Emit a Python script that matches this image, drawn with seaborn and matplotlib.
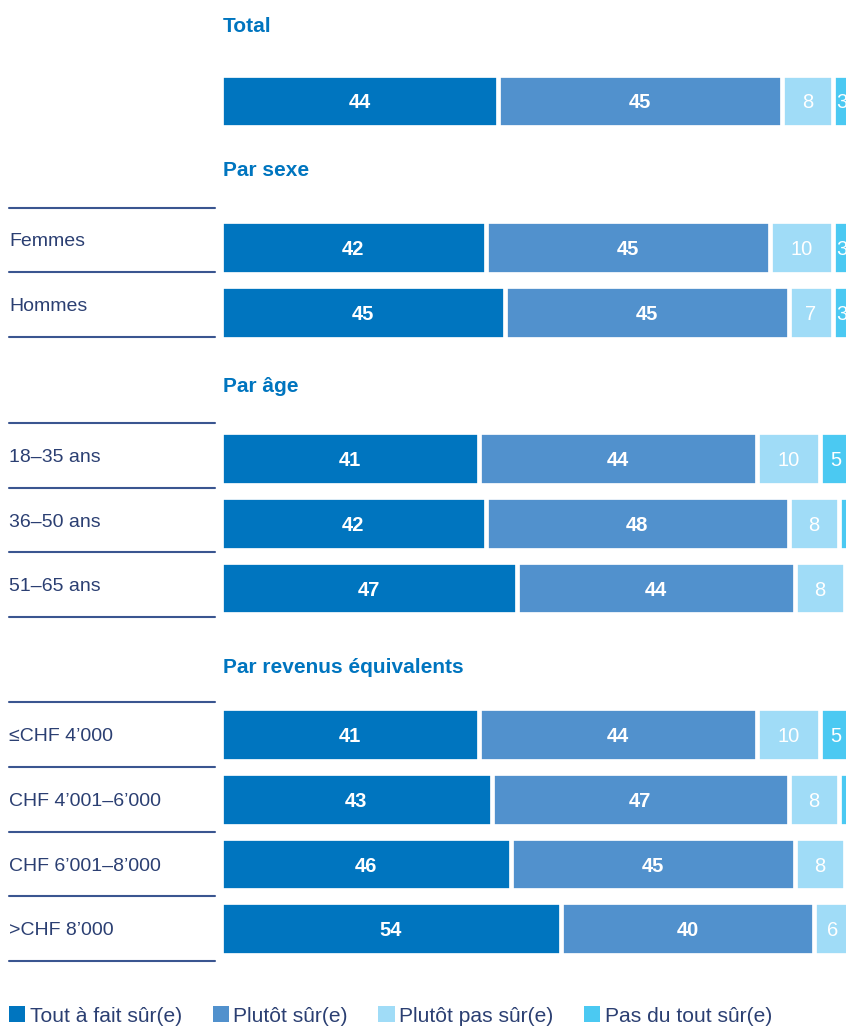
import numpy as np
import pandas as pd
import seaborn as sns
import matplotlib.pyplot as plt
import matplotlib.transforms as mtransforms
from matplotlib.patches import Patch

# data
groups = ["Total", "Par sexe", "Par âge", "Par revenus équivalents"]
categories = ["Total", "Femmes", "Hommes", "18–35 ans", "36–50 ans", "51–65 ans",
              "≤CHF 4’000", "CHF 4’001–6’000", "CHF 6’001–8’000", ">CHF 8’000"]
group_of = [0, 1, 1, 2, 2, 2, 3, 3, 3, 3]
tout_a_fait = [44, 42, 45, 41, 42, 47, 41, 43, 46, 54]
plutot_sur = [45, 45, 45, 44, 48, 44, 44, 47, 45, 40]
plutot_pas = [8, 10, 7, 10, 8, 8, 10, 8, 8, 6]
pas_du_tout = [3, 3, 3, 5, 2, 1, 5, 2, 1, 0]
series_names = ["Tout à fait sûr(e)", "Plutôt sûr(e)", "Plutôt pas sûr(e)", "Pas du tout sûr(e)"]

colors = ["#0075BF", "#5191CD", "#A0DCF7", "#4BC9F2"]
blue_head = "#0075BF"
navy = "#2B3F72"
line_col = "#3A5590"

sns.set_theme(style="white")
plt.rcParams['font.family'] = ['Liberation Sans', 'DejaVu Sans']

W, H = 846, 1026
fig = plt.figure(figsize=(W / 100, H / 100), dpi=100)

# layout (pixels)
px_per_pct = 6.31
edge_px = 4.7
bar_left = 223 - edge_px / 2
pitch = 64.7
group_step = 146.5
head_gap = [69, 71, 67, 62]
line_shift = [0, -7.7, -3.3, 0]
half_gap = 32.2

pos = []
y = 101.0
for i, g in enumerate(group_of):
    if i > 0:
        y += group_step if g != group_of[i - 1] else pitch
    pos.append(y)

ax = fig.add_axes([bar_left / W, 0, (W - bar_left) / W, 1])

vals = np.array([tout_a_fait, plutot_sur, plutot_pas, pas_du_tout], dtype=float)
cums = np.cumsum(vals, axis=0)

# stacked bars: draw cumulative totals from back to front
for k in range(3, -1, -1):
    df = pd.DataFrame({"pos": pos, "cum": cums[k]})
    sns.barplot(data=df, x="cum", y="pos", orient="y", native_scale=True,
                color=colors[k], saturation=1, width=(48 + edge_px) / pitch,
                edgecolor="white", linewidth=edge_px * 0.72, errorbar=None, ax=ax)

ax.set_xlim(0, (W - bar_left) / px_per_pct)
ax.set_ylim(H, 0)
ax.axis("off")

# value labels
for i in range(len(categories)):
    start = 0
    for k in range(4):
        v = vals[k, i]
        if v >= 3:
            ax.text(start + v / 2, pos[i], f"{int(v)}", ha="center", va="center_baseline",
                    color="white", fontsize=14.5,
                    fontweight="bold" if k < 2 else "normal", clip_on=True)
        start += v

trans = mtransforms.blended_transform_factory(fig.transFigure, ax.transData)

# group headings
for g, name in enumerate(groups):
    first = group_of.index(g)
    ax.text(223 / W, pos[first] - head_gap[g], name, transform=trans,
            ha="left", va="baseline", color=blue_head, fontsize=15, fontweight="bold")

# category labels and separator lines
for i, cat in enumerate(categories):
    g = group_of[i]
    if g == 0:
        continue
    mid = pos[i] + line_shift[g]
    ax.text(9 / W, mid, cat, transform=trans, ha="left", va="center_baseline",
            color=navy, fontsize=14)
    ys = [mid + half_gap]
    if group_of[i - 1] != g:
        ys.append(mid - half_gap)
    for yl in ys:
        ax.plot([9 / W, 215 / W], [yl, yl], transform=trans, color=line_col,
                linewidth=1.5, clip_on=False)

handles = [Patch(facecolor=c, edgecolor="none", label=n) for c, n in zip(colors, series_names)]
fig.legend(handles=handles, loc="center left", bbox_to_anchor=(9 / W, 1 - 1016 / H),
           ncol=4, frameon=False, fontsize=15.1, handlelength=0.78, handleheight=0.78,
           handletextpad=0.22, columnspacing=1.45, borderpad=0, borderaxespad=0,
           labelcolor=navy)

fig.savefig("out.png", dpi=100)
